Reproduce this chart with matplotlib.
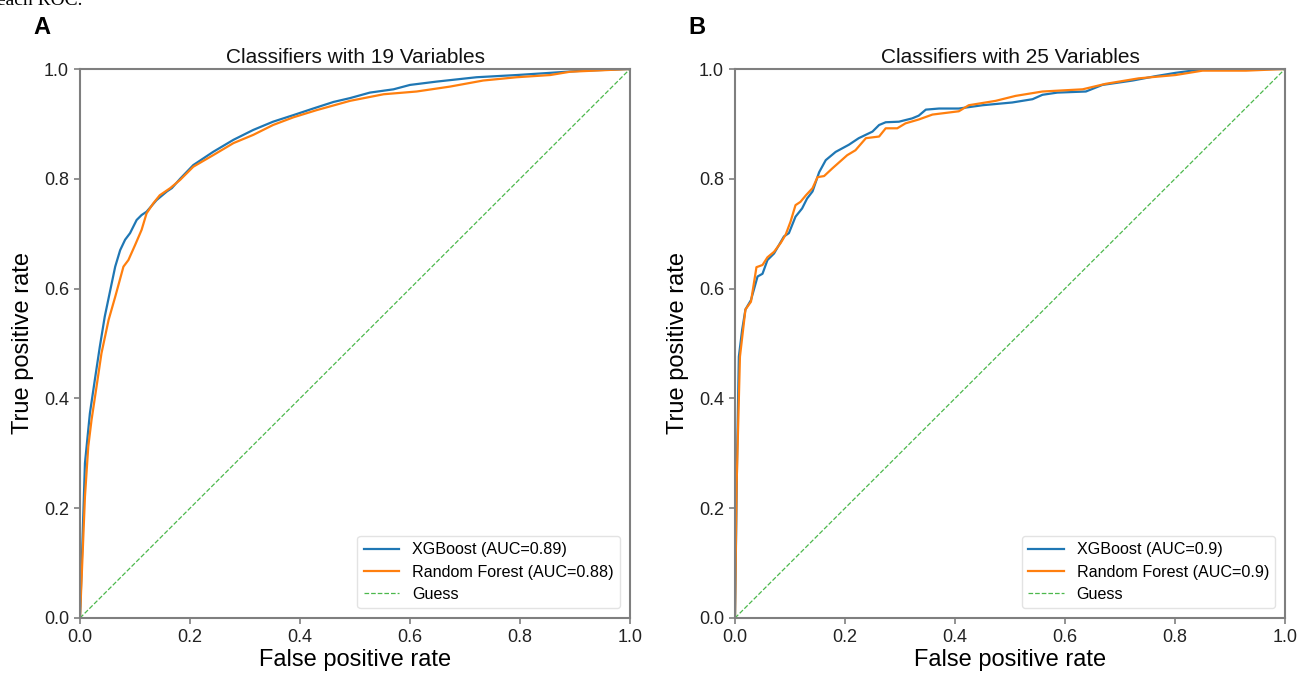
import matplotlib

matplotlib.use("Agg")

import matplotlib.pyplot as plt

plt.rcParams["font.family"] = ["Liberation Sans", "DejaVu Sans"]

# panel A: 19 variables
xgb19_fpr = [0.0, 0.009, 0.018, 0.027, 0.036, 0.045, 0.055, 0.064, 0.073, 0.082, 0.091,
             0.103, 0.112, 0.121, 0.139, 0.158, 0.167, 0.182, 0.206, 0.242, 0.279, 0.315,
             0.351, 0.388, 0.424, 0.461, 0.491, 0.527, 0.570, 0.600, 0.648, 0.721, 0.794,
             0.855, 0.915, 1.0]
xgb19_tpr = [0.0, 0.282, 0.373, 0.434, 0.494, 0.549, 0.597, 0.640, 0.670, 0.689, 0.701,
             0.725, 0.734, 0.740, 0.761, 0.777, 0.783, 0.800, 0.825, 0.849, 0.871, 0.889,
             0.904, 0.916, 0.928, 0.940, 0.947, 0.957, 0.963, 0.971, 0.977, 0.985, 0.989,
             0.993, 0.997, 1.0]
rf19_fpr = [0.0, 0.009, 0.015, 0.021, 0.030, 0.039, 0.052, 0.064, 0.079, 0.088, 0.100,
            0.112, 0.121, 0.133, 0.145, 0.164, 0.182, 0.206, 0.242, 0.279, 0.315, 0.351,
            0.388, 0.430, 0.491, 0.552, 0.612, 0.673, 0.733, 0.794, 0.855, 0.891, 1.0]
rf19_tpr = [0.0, 0.221, 0.312, 0.361, 0.421, 0.482, 0.543, 0.585, 0.640, 0.652, 0.679,
            0.707, 0.737, 0.755, 0.770, 0.783, 0.798, 0.822, 0.843, 0.865, 0.880, 0.898,
            0.912, 0.925, 0.942, 0.954, 0.959, 0.968, 0.979, 0.985, 0.989, 0.995, 1.0]

# panel B: 25 variables
xgb25_fpr = [0.0, 0.004, 0.007, 0.013, 0.019, 0.029, 0.041, 0.050, 0.059, 0.071, 0.089,
             0.098, 0.110, 0.122, 0.131, 0.141, 0.153, 0.165, 0.183, 0.207, 0.225, 0.250,
             0.262, 0.274, 0.298, 0.322, 0.334, 0.347, 0.371, 0.407, 0.450, 0.504, 0.541,
             0.559, 0.586, 0.638, 0.668, 0.723, 0.765, 0.801, 0.831, 0.856, 1.0]
xgb25_tpr = [0.0, 0.306, 0.476, 0.525, 0.562, 0.579, 0.622, 0.627, 0.652, 0.664, 0.695,
             0.701, 0.731, 0.746, 0.764, 0.777, 0.812, 0.834, 0.849, 0.862, 0.874, 0.886,
             0.898, 0.903, 0.904, 0.910, 0.915, 0.926, 0.928, 0.928, 0.934, 0.939, 0.945,
             0.953, 0.957, 0.959, 0.971, 0.979, 0.987, 0.993, 0.997, 1.0, 1.0]
rf25_fpr = [0.0, 0.003, 0.009, 0.019, 0.029, 0.039, 0.050, 0.059, 0.071, 0.083, 0.092,
            0.101, 0.110, 0.119, 0.129, 0.141, 0.150, 0.162, 0.177, 0.204, 0.219, 0.238,
            0.262, 0.274, 0.295, 0.310, 0.334, 0.359, 0.407, 0.425, 0.474, 0.510, 0.559,
            0.632, 0.674, 0.734, 0.801, 0.850, 0.929, 1.0]
rf25_tpr = [0.0, 0.245, 0.476, 0.562, 0.576, 0.639, 0.643, 0.657, 0.667, 0.683, 0.698,
            0.722, 0.752, 0.758, 0.770, 0.783, 0.803, 0.805, 0.819, 0.843, 0.852, 0.874,
            0.877, 0.892, 0.892, 0.901, 0.908, 0.917, 0.923, 0.934, 0.942, 0.951, 0.959,
            0.963, 0.973, 0.983, 0.989, 0.997, 0.997, 1.0]

panels = [
    ("A", "Classifiers with 19 Variables",
     xgb19_fpr, xgb19_tpr, "XGBoost (AUC=0.89)",
     rf19_fpr, rf19_tpr, "Random Forest (AUC=0.88)"),
    ("B", "Classifiers with 25 Variables",
     xgb25_fpr, xgb25_tpr, "XGBoost (AUC=0.9)",
     rf25_fpr, rf25_tpr, "Random Forest (AUC=0.9)"),
]

fig = plt.figure(figsize=(13.01, 6.77), dpi=100)

lefts = [80 / 1301, 735 / 1301]
W = 550 / 1301
B = 59 / 677
H = 549 / 677

spine_color = "#7f7f7f"

for i, (tag, title, xf, xt, xl, rf, rt, rl) in enumerate(panels):
    ax = fig.add_axes([lefts[i], B, W, H])
    ax.plot(xf, xt, color="#1f77b4", lw=1.6, label=xl)
    ax.plot(rf, rt, color="#ff7f0e", lw=1.6, label=rl)
    ax.plot([0, 1], [0, 1], color="#4cb84c", lw=0.9, ls="--", label="Guess")
    ax.set_xlim(0, 1)
    ax.set_ylim(0, 1)
    ax.set_xticks([0, 0.2, 0.4, 0.6, 0.8, 1.0])
    ax.set_yticks([0, 0.2, 0.4, 0.6, 0.8, 1.0])
    ax.tick_params(labelsize=13, colors=spine_color, labelcolor="#222222",
                   length=4, width=1.2, pad=4)
    for s in ax.spines.values():
        s.set_color(spine_color)
        s.set_linewidth(1.5)
    ax.set_title(title, fontsize=15, pad=4, color="#111111")
    ax.set_xlabel("False positive rate", fontsize=17, labelpad=2)
    ax.set_ylabel("True positive rate", fontsize=17, labelpad=7)
    leg = ax.legend(loc="lower right", fontsize=11.6, handlelength=2.2,
                    borderaxespad=0.6, labelspacing=0.45)
    leg.get_frame().set_edgecolor("#dddddd")
    fig.text(lefts[i] - 47 / 1301, 1 - 27 / 677, tag, fontsize=17,
             fontweight="bold", ha="left", va="center")

fig.text(82 / 1301, 1 - 5 / 677, "each ROC.", fontsize=14,
         family="Liberation Serif", ha="right", va="baseline")

fig.savefig("out.png", dpi=100)
